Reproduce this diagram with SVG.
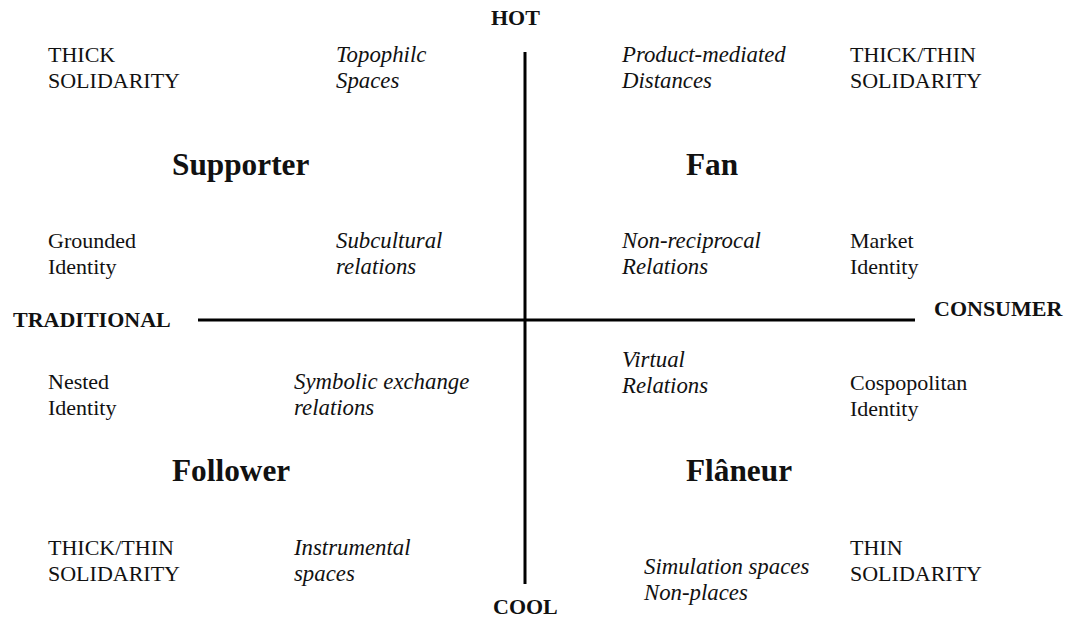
<svg xmlns="http://www.w3.org/2000/svg" width="1072" height="619" viewBox="0 0 1072 619" font-family="'Liberation Serif', 'DejaVu Serif', serif">
<style>
text{font-family:'Liberation Serif','DejaVu Serif',serif;fill:#111}
.r{font-size:22px;font-weight:normal}
.i{font-size:22.8px;font-style:italic}
.ax{font-size:22px;font-weight:bold}
.q{font-size:31.3px;font-weight:bold}
.ln{stroke:#000;stroke-width:3;fill:none}
</style>
<rect width="1072" height="619" fill="#fff"/>
<g id="connectors">
<line class="ln" x1="198" y1="320" x2="915" y2="320"/>
<line class="ln" x1="525" y1="52" x2="525" y2="584"/>
</g>
<g id="axis-hot"><text class="ax" x="491" y="25">HOT</text></g>
<g id="axis-cool"><text class="ax" x="493" y="614">COOL</text></g>
<g id="axis-traditional"><text class="ax" x="13" y="327">TRADITIONAL</text></g>
<g id="axis-consumer"><text class="ax" x="934" y="316">CONSUMER</text></g>

<g id="supporter">
<text class="r" x="48" y="62">THICK</text>
<text class="r" x="48" y="88">SOLIDARITY</text>
<text class="i" x="336" y="62">Topophilc</text>
<text class="i" x="336" y="88">Spaces</text>
<text class="q" x="172" y="175">Supporter</text>
<text class="r" x="48" y="248">Grounded</text>
<text class="r" x="48" y="274">Identity</text>
<text class="i" x="336" y="248">Subcultural</text>
<text class="i" x="336" y="274">relations</text>
</g>
<g id="fan">
<text class="i" x="622" y="62">Product-mediated</text>
<text class="i" x="622" y="88">Distances</text>
<text class="r" x="850" y="62">THICK/THIN</text>
<text class="r" x="850" y="88">SOLIDARITY</text>
<text class="q" x="686" y="175">Fan</text>
<text class="i" x="622" y="248">Non-reciprocal</text>
<text class="i" x="622" y="274">Relations</text>
<text class="r" x="850" y="248">Market</text>
<text class="r" x="850" y="274">Identity</text>
</g>
<g id="follower">
<text class="r" x="48" y="389">Nested</text>
<text class="r" x="48" y="415">Identity</text>
<text class="i" x="294" y="389">Symbolic exchange</text>
<text class="i" x="294" y="415">relations</text>
<text class="q" x="172" y="481">Follower</text>
<text class="r" x="48" y="555">THICK/THIN</text>
<text class="r" x="48" y="581">SOLIDARITY</text>
<text class="i" x="294" y="555">Instrumental</text>
<text class="i" x="294" y="581">spaces</text>
</g>
<g id="flaneur">
<text class="i" x="622" y="367">Virtual</text>
<text class="i" x="622" y="393">Relations</text>
<text class="r" x="850" y="390">Cospopolitan</text>
<text class="r" x="850" y="416">Identity</text>
<text class="q" x="686" y="481">Flâneur</text>
<text class="i" x="644" y="574">Simulation spaces</text>
<text class="i" x="644" y="600">Non-places</text>
<text class="r" x="850" y="555">THIN</text>
<text class="r" x="850" y="581">SOLIDARITY</text>
</g>
</svg>
